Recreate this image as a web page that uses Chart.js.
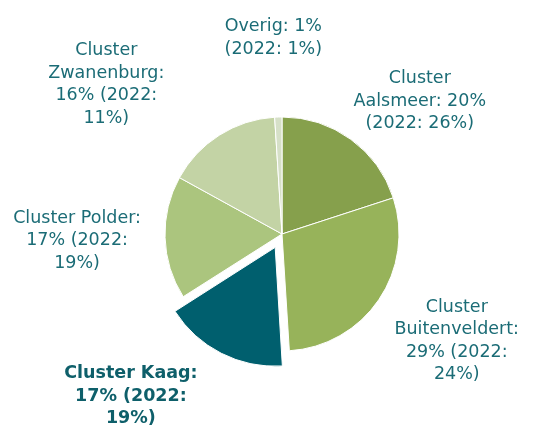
<!DOCTYPE html>
<html>
<head>
<meta charset="utf-8">
<script src="https://cdn.jsdelivr.net/npm/chart.js@4/dist/chart.umd.min.js"></script>
<style>
  html, body { margin: 0; padding: 0; background: #ffffff; }
  #wrap { width: 545px; height: 426px; position: relative; }
</style>
</head>
<body>
<div id="wrap"><canvas id="c" width="545" height="426"></canvas></div>
<script>
// ---- data ----
const categories = ["Cluster Aalsmeer", "Cluster Buitenveldert", "Cluster Kaag", "Cluster Polder", "Cluster Zwanenburg", "Overig"];
const share2023 = [20, 29, 17, 17, 16, 1];
const share2022 = [26, 24, 19, 19, 11, 1];

// ---- styling ----
const sliceColors = ["#86A04C", "#97B35A", "#005F6E", "#ABC57E", "#C3D3A5", "#D6E0C8"];
// Chart.js v4 translates an arc by offset/4 px, so 60 -> ~15px explosion
const sliceOffsets = [0, 0, 60, 0, 0, 0];
const boldLabel = [false, false, true, false, false, false];
// label line breaks (text wrapping as in the reference)
const labelLines = [
  ["Cluster", "Aalsmeer: " + share2023[0] + "%", "(2022: " + share2022[0] + "%)"],
  ["Cluster", "Buitenveldert:", share2023[1] + "% (2022:", share2022[1] + "%)"],
  ["Cluster Kaag:", share2023[2] + "% (2022:", share2022[2] + "%)"],
  ["Cluster Polder:", share2023[3] + "% (2022:", share2022[3] + "%)"],
  ["Cluster", "Zwanenburg:", share2023[4] + "% (2022:", share2022[4] + "%)"],
  ["Overig: " + share2023[5] + "%", "(2022: " + share2022[5] + "%)"]
];
// label offsets relative to the slice's outer-edge midpoint
const labelDX = [69, 78, -98, -88, -113, -5];
const labelDY = [-38, 41, 58, 3, -51, -79];

const labelPlugin = {
  id: 'sliceLabels',
  afterDatasetsDraw(chart) {
    const ctx = chart.ctx;
    const meta = chart.getDatasetMeta(0);
    ctx.save();
    ctx.textAlign = 'center';
    ctx.textBaseline = 'middle';
    const lh = 22.5;
    meta.data.forEach((arc, i) => {
      const p = arc.getProps(['x', 'y', 'startAngle', 'endAngle', 'outerRadius'], true);
      const mid = (p.startAngle + p.endAngle) / 2;
      const ax = p.x + Math.cos(mid) * p.outerRadius;
      const ay = p.y + Math.sin(mid) * p.outerRadius;
      const cx = ax + labelDX[i];
      const cy = ay + labelDY[i];
      const lines = labelLines[i];
      ctx.font = (boldLabel[i] ? 'bold ' : '') + '17.5px "DejaVu Sans", Verdana, sans-serif';
      ctx.fillStyle = boldLabel[i] ? '#0E5F6A' : '#1B6C76';
      const top = cy - (lines.length - 1) * lh / 2;
      lines.forEach((t, k) => ctx.fillText(t, cx, top + k * lh));
    });
    ctx.restore();
  }
};

new Chart(document.getElementById('c'), {
  type: 'pie',
  data: {
    labels: categories,
    datasets: [{
      data: share2023,
      backgroundColor: sliceColors,
      borderColor: '#ffffff',
      borderWidth: 1,
      offset: sliceOffsets
    }]
  },
  options: {
    responsive: false,
    animation: false,
    radius: 117,
    layout: { padding: { left: 79, right: 60, top: 102, bottom: 60 } },
    plugins: {
      legend: { display: false },
      tooltip: { enabled: false }
    }
  },
  plugins: [labelPlugin]
});
</script>
</body>
</html>
